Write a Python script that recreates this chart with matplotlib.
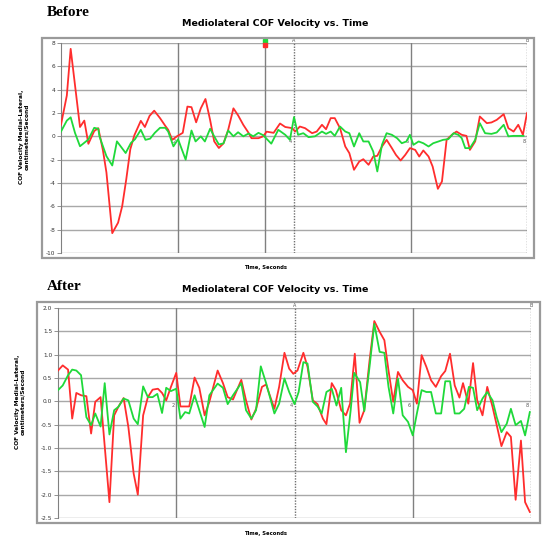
import matplotlib
matplotlib.use("Agg")
import matplotlib.pyplot as plt
from matplotlib.patches import Rectangle

# ---------------- data ----------------
before_red_t = [0, 0.10, 0.166, 0.326, 0.40, 0.47, 0.57, 0.64, 0.72, 0.78, 0.88, 0.98, 1.05, 1.12, 1.19, 1.26,
                1.37, 1.44, 1.52, 1.60, 1.70, 1.79, 1.84, 1.91, 1.99, 2.09, 2.17, 2.24, 2.32, 2.40, 2.48, 2.56,
                2.63, 2.71, 2.79, 2.87, 2.96, 3.04, 3.13, 3.22, 3.27, 3.39, 3.47, 3.53, 3.65, 3.76, 3.85, 3.97,
                4.02, 4.10, 4.19, 4.31, 4.39, 4.48, 4.55, 4.63, 4.70, 4.79, 4.88, 4.95, 5.03, 5.12, 5.19, 5.28,
                5.36, 5.43, 5.51, 5.59, 5.68, 5.75, 5.83, 5.91, 5.99, 6.08, 6.15, 6.22, 6.31, 6.38, 6.47, 6.54,
                6.62, 6.71, 6.79, 6.88, 6.96, 7.02, 7.11, 7.19, 7.31, 7.39, 7.48, 7.60, 7.68, 7.77, 7.85, 7.93, 8.00]
before_red = [1.0, 3.5, 7.5, 0.8, 1.35, -0.64, 0.45, 0.7, -1.2, -3.1, -8.3, -7.4, -6.0, -3.7, -1.1, 0.1,
              1.33, 0.8, 1.75, 2.2, 1.56, 0.9, 0.56, -0.3, 0.0, 0.3, 2.55, 2.5, 1.2, 2.4, 3.2, 1.4,
              -0.43, -1.0, -0.6, 0.55, 2.4, 1.8, 0.98, 0.3, -0.16, -0.16, 0.0, 0.4, 0.3, 1.1, 0.8, 0.7,
              0.41, 0.84, 0.7, 0.27, 0.41, 0.99, 0.61, 1.56, 1.56, 0.7, -0.87, -1.44, -2.87, -2.16, -1.96, -2.44,
              -1.73, -1.67, -0.87, -0.3, -1.01, -1.59, -2.07, -1.59, -1.01, -1.16, -1.73, -1.21, -1.73, -2.59, -4.5, -3.87,
              -0.3, 0.13, 0.41, 0.13, 0.04, -1.16, -0.44, 1.7, 1.13, 1.19, 1.41, 1.9, 0.7, 0.41, 0.99, 0.13, 1.99]

before_green_t = [0, 0.10, 0.166, 0.24, 0.326, 0.47, 0.57, 0.64, 0.66, 0.78, 0.88, 0.96, 1.11, 1.20, 1.27,
                  1.37, 1.45, 1.53, 1.61, 1.70, 1.79, 1.84, 1.93, 2.01, 2.14, 2.24, 2.31, 2.40, 2.47, 2.56,
                  2.63, 2.71, 2.79, 2.87, 2.96, 3.04, 3.13, 3.22, 3.30, 3.39, 3.47, 3.61, 3.73, 3.85, 3.93,
                  4.00, 4.07, 4.16, 4.25, 4.36, 4.48, 4.55, 4.63, 4.70, 4.79, 4.88, 4.95, 5.03, 5.12, 5.19,
                  5.28, 5.36, 5.43, 5.51, 5.59, 5.68, 5.77, 5.85, 5.93, 5.99, 6.05, 6.14, 6.22, 6.31, 6.39,
                  6.48, 6.56, 6.65, 6.74, 6.82, 6.88, 6.94, 7.02, 7.11, 7.19, 7.28, 7.39, 7.48, 7.60, 7.68,
                  7.77, 7.94]
before_green = [0.41, 1.35, 1.63, 0.3, -0.85, -0.27, 0.73, 0.65, 0.0, -1.7, -2.5, -0.43, -1.43, -0.57, -0.25,
                0.56, -0.3, -0.2, 0.3, 0.73, 0.73, 0.41, -0.86, -0.25, -2.0, 0.5, -0.44, 0.0, -0.44, 0.65,
                0.0, -0.7, -0.6, 0.5, 0.0, 0.35, 0.0, 0.24, 0.0, 0.3, 0.1, -0.63, 0.56, 0.13, -0.3,
                1.65, 0.13, 0.27, -0.07, 0.0, 0.41, 0.21, 0.41, 0.04, 0.84, 0.41, 0.27, -0.87, 0.27, -0.44,
                -0.44, -1.3, -3.01, -0.73, 0.27, 0.13, -0.16, -0.59, -0.44, 0.13, -0.73, -0.44, -0.59, -0.87, -0.59,
                -0.44, -0.3, -0.24, 0.27, 0.13, -0.16, -1.01, -1.01, -0.3, 1.13, 0.27, 0.21, 0.33, 0.99, 0.0,
                0.04, 0.04]

after_red_t = [0, 0.08, 0.17, 0.24, 0.31, 0.39, 0.48, 0.56, 0.63, 0.72, 0.87, 0.95, 1.02, 1.11, 1.19, 1.28,
               1.35, 1.44, 1.52, 1.60, 1.69, 1.76, 1.83, 1.91, 2.00, 2.07, 2.15, 2.22, 2.31, 2.39, 2.48, 2.56,
               2.70, 2.79, 2.87, 2.96, 3.10, 3.18, 3.27, 3.35, 3.45, 3.52, 3.66, 3.74, 3.83, 3.91, 3.98, 4.05,
               4.15, 4.22, 4.31, 4.39, 4.48, 4.54, 4.63, 4.70, 4.79, 4.87, 4.94, 5.02, 5.10, 5.18, 5.27, 5.35,
               5.44, 5.52, 5.59, 5.67, 5.75, 5.83, 5.92, 6.00, 6.07, 6.15, 6.23, 6.31, 6.39, 6.48, 6.55, 6.63,
               6.71, 6.79, 6.85, 6.94, 7.02, 7.09, 7.18, 7.26, 7.35, 7.42, 7.50, 7.59, 7.66, 7.74, 7.83, 7.90, 7.98]
after_red = [0.66, 0.77, 0.68, -0.37, 0.18, 0.13, 0.11, -0.69, -0.01, 0.09, -2.16, -0.3, -0.12, 0.07, -0.55, -1.55,
             -2.0, -0.3, 0.09, 0.25, 0.27, 0.18, 0.02, 0.31, 0.61, -0.11, -0.11, -0.11, 0.51, 0.29, -0.3, -0.01,
             0.66, 0.39, 0.09, 0.04, 0.46, 0.02, -0.39, -0.16, 0.31, 0.36, -0.16, 0.31, 1.04, 0.7, 0.59, 0.66,
             1.04, 0.74, 0.02, -0.06, -0.37, -0.49, 0.39, 0.24, -0.19, -0.3, -0.05, 1.02, -0.46, -0.19, 0.88, 1.72,
             1.49, 1.31, 0.66, -0.01, 0.63, 0.45, 0.31, 0.24, -0.05, 0.99, 0.74, 0.45, 0.31, 0.54, 0.65, 1.02,
             0.34, 0.08, 0.39, -0.05, 0.82, 0.02, -0.3, 0.31, -0.12, -0.51, -0.96, -0.66, -0.76, -2.11, -0.84, -2.16, -2.37]

after_green_t = [0, 0.08, 0.17, 0.24, 0.31, 0.39, 0.48, 0.56, 0.63, 0.72, 0.79, 0.87, 0.95, 1.02, 1.11, 1.19,
                 1.28, 1.35, 1.44, 1.52, 1.60, 1.68, 1.76, 1.83, 1.91, 2.00, 2.07, 2.15, 2.22, 2.31, 2.39, 2.48,
                 2.56, 2.70, 2.79, 2.87, 2.96, 3.10, 3.18, 3.27, 3.35, 3.43, 3.52, 3.66, 3.74, 3.83, 3.91, 4.00,
                 4.07, 4.15, 4.22, 4.31, 4.39, 4.46, 4.54, 4.63, 4.71, 4.79, 4.87, 4.95, 5.01, 5.11, 5.18, 5.27,
                 5.35, 5.44, 5.52, 5.59, 5.67, 5.75, 5.83, 5.92, 6.00, 6.07, 6.15, 6.23, 6.31, 6.39, 6.48, 6.55,
                 6.63, 6.71, 6.79, 6.87, 6.95, 7.02, 7.09, 7.18, 7.26, 7.35, 7.42, 7.50, 7.59, 7.66, 7.74, 7.83,
                 7.90, 7.98]
after_green = [0.24, 0.34, 0.56, 0.68, 0.66, 0.56, -0.34, -0.51, -0.26, -0.54, 0.39, -0.71, -0.19, -0.12, 0.06, 0.02,
               -0.37, -0.49, 0.32, 0.09, 0.09, 0.16, -0.25, 0.29, 0.22, 0.27, -0.37, -0.23, -0.26, 0.13, -0.19, -0.55,
               0.13, 0.38, 0.29, -0.06, 0.13, 0.39, -0.19, -0.37, -0.19, 0.75, 0.39, -0.26, -0.05, 0.49, 0.2, -0.06,
               0.2, 0.84, 0.81, -0.01, -0.11, -0.26, 0.2, 0.27, -0.09, 0.29, -1.09, -0.19, 0.61, 0.41, -0.21, 0.75,
               1.66, 1.06, 1.04, 0.31, -0.26, 0.49, -0.3, -0.44, -0.73, -0.26, 0.24, 0.2, 0.2, -0.26, -0.26, 0.43,
               0.43, -0.26, -0.26, -0.16, 0.31, 0.29, -0.19, 0.06, 0.2, 0.02, -0.34, -0.66, -0.48, -0.16, -0.51, -0.42,
               -0.73, -0.23]

before_yticks = [8, 6, 4, 2, 0, -2, -4, -6, -8, -10]
after_yticks = [2.0, 1.5, 1.0, 0.5, 0.0, -0.5, -1.0, -1.5, -2.0, -2.5]
x_marks = [2, 4, 6, 8]
cursor_t = 3.5
cursor_vals = [8.15, 7.8]

title = "Mediolateral COF Velocity vs. Time"
ylabel = "COF Velocity Medial-Lateral,\ncentimeters/Second"
xlabel = "Time, Seconds"

RED = "#ff2d2d"
GREEN = "#1fd93a"
GRID = "#a8a8a8"

W, H = 550, 545
fig = plt.figure(figsize=(W / 100, H / 100), dpi=100)
fig.patch.set_facecolor("white")


def fx(px):
    return px / W


def fy(py):
    return 1 - py / H


def panel(box, frame, yticks, fmt, rt, rv, gt, gv, zero_label_off, label, label_y, title_y, xlab_y, ylab_x, cursor=False):
    l, t, r, b = box
    ax = fig.add_axes([fx(l), fy(b), fx(r) - fx(l), fy(t) - fy(b)])
    # outer frame
    fl, ft, fr, fb = frame
    fig.patches.append(Rectangle((fx(fl), fy(fb)), fx(fr) - fx(fl), fy(ft) - fy(fb),
                                 transform=fig.transFigure, fill=False, edgecolor="#9a9a9a", lw=1.6, zorder=0))
    ax.set_xlim(0, 8)
    ax.set_ylim(yticks[-1], yticks[0])
    for v in yticks:
        ax.axhline(v, color=GRID, lw=1.0, zorder=1)
    for xm in x_marks:
        if xm in (2, 6):
            ax.axvline(xm, color="#808080", lw=1.0, zorder=1)
        else:
            ax.axvline(xm, color="#707070", lw=1.0, ls=(0, (1, 1)), zorder=1)
        ax.text(xm - 0.03, zero_label_off, str(xm), fontsize=3.5, color="#555555", ha="right", va="top", zorder=2)
    ax.text(4, yticks[0], "A", fontsize=3.5, color="#555555", ha="center", va="bottom", clip_on=False)
    ax.text(8, yticks[0], "B", fontsize=3.5, color="#555555", ha="center", va="bottom", clip_on=False)
    if cursor:
        ax.axvline(cursor_t, color="#808080", lw=1.0, zorder=1)
        ax.plot([cursor_t], [cursor_vals[0]], "s", color=GREEN, ms=2.5, clip_on=False, zorder=5)
        ax.plot([cursor_t], [cursor_vals[1]], "s", color=RED, ms=2.5, clip_on=False, zorder=5)
    ax.plot(rt, rv, color=RED, lw=1.3, zorder=3)
    ax.plot(gt, gv, color=GREEN, lw=1.3, zorder=4)
    for s in ("top", "right", "bottom"):
        ax.spines[s].set_visible(False)
    ax.spines["left"].set_color("#808080")
    ax.set_yticks(yticks)
    ax.set_yticklabels([fmt.format(v) for v in yticks])
    ax.set_xticks([])
    ax.tick_params(axis="y", labelsize=4.2, length=3, width=0.6, color="#808080", labelcolor="#333333", pad=1)
    fig.text(fx(47), fy(label_y), label, fontsize=11, fontweight="bold", family="Liberation Serif", ha="left", va="center")
    fig.text(fx(275), fy(title_y), title, fontsize=6.8, fontweight="bold", ha="center", va="center")
    fig.text(fx(266), fy(xlab_y), xlabel, fontsize=3.8, fontweight="bold", ha="center", va="center")
    fig.text(fx(ylab_x), (fy(t) + fy(b)) / 2 + 0.02, ylabel, fontsize=4.2, fontweight="bold", rotation=90,
             ha="center", va="center", multialignment="center")
    return ax


panel((61, 43, 527, 253), (42, 38, 534, 258), before_yticks, "{:g}",
      before_red_t, before_red, before_green_t, before_green, -0.2,
      "Before", 13, 24, 268, 24, cursor=True)
panel((58, 308, 531, 518), (37, 302, 540, 523), after_yticks, "{:.1f}",
      after_red_t, after_red, after_green_t, after_green, -0.03,
      "After", 287, 289, 533, 20)

fig.savefig("out.png", dpi=100, facecolor="white")
